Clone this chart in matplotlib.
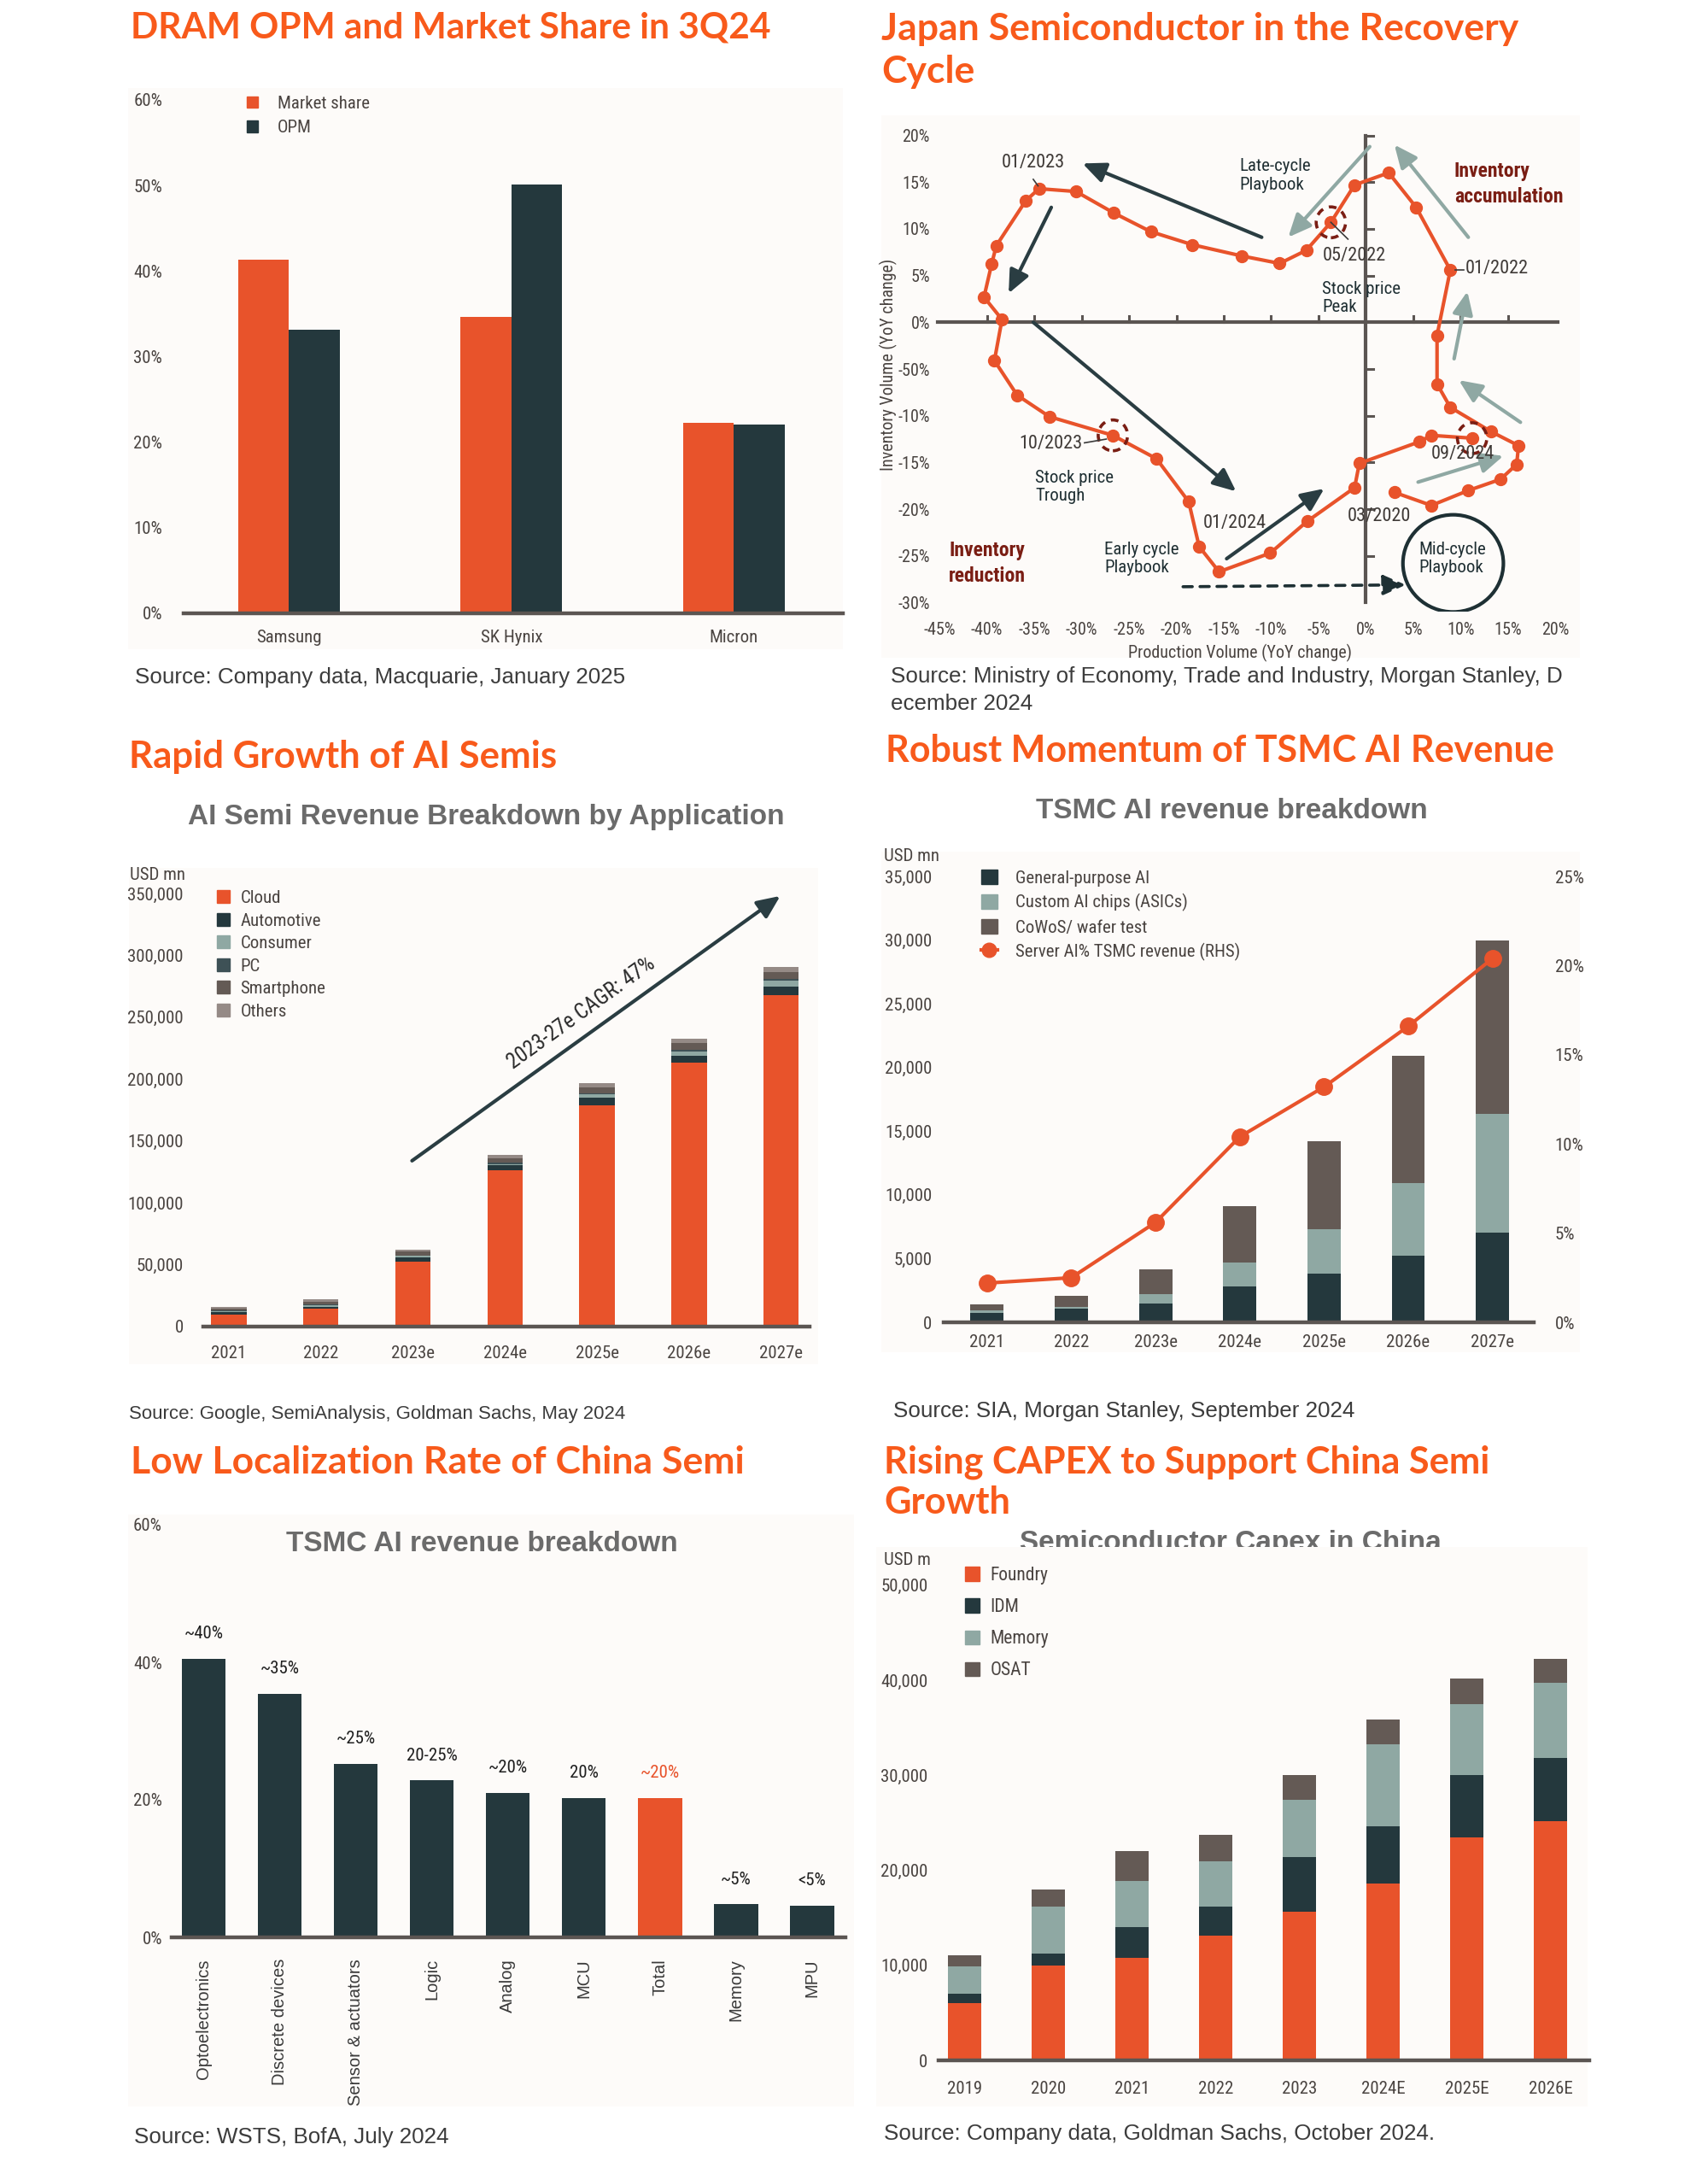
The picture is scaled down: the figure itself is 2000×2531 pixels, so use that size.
import matplotlib
matplotlib.use('Agg')
import matplotlib.pyplot as plt
from matplotlib import font_manager as fm
from matplotlib.patches import Rectangle, Ellipse, Patch
from matplotlib.lines import Line2D
from matplotlib.ticker import FuncFormatter
import numpy as np

# ---------------- data ----------------
dram_companies = ['Samsung', 'SK Hynix', 'Micron']
dram_market_share = [41.3, 34.6, 22.3]
dram_opm = [33.1, 50.1, 22.1]
dram_yticks = [0, 10, 20, 30, 40, 50, 60]

jp_production = [3.0, 6.9, 10.8, 14.2, 15.9, 16.1, 13.2, 8.9, 7.5, 7.5, 8.9, 5.3, 2.4, -1.2,
                 -3.7, -6.3, -9.1, -13.1, -18.3, -22.7, -26.6, -30.6, -34.5, -35.9, -39.0,
                 -39.5, -40.3, -38.4, -39.2, -36.8, -33.4, -26.7, -22.1, -18.7, -17.6, -15.5,
                 -10.1, -6.2, -1.2, -0.7, 5.6, 6.9, 11.2]
jp_inventory = [-18.2, -19.6, -18.0, -16.8, -15.2, -13.2, -11.7, -9.1, -6.6, -1.4, 5.6, 12.3,
                16.0, 14.7, 10.7, 7.7, 6.3, 7.1, 8.3, 9.7, 11.7, 14.0, 14.3, 13.0, 8.2, 6.2,
                2.7, 0.3, -4.1, -7.8, -10.1, -12.1, -14.6, -19.2, -24.0, -26.7, -24.7, -21.3,
                -17.7, -15.1, -12.8, -12.1, -12.4]
jp_xticks = [-45, -40, -35, -30, -25, -20, -15, -10, -5, 0, 5, 10, 15, 20]
jp_yticks = [20, 15, 10, 5, 0, -5, -10, -15, -20, -25, -30]
jp_yticklabels = ['20%', '15%', '10%', '5%', '0%', '-50%', '-10%', '-15%', '-20%', '-25%', '-30%']
jp_highlight_idx = [14, 31, 42]
jp_dark_arrows = [((-11.0, 9.1), (-29.9, 17.0)), ((-33.2, 12.3), (-37.7, 3.1)),
                  ((-35.1, 0.0), (-13.7, -18.1)), ((-14.7, -25.3), (-4.4, -17.8))]
jp_teal_arrows = [((0.4, 18.8), (-8.2, 9.1)), ((10.8, 9.1), (3.0, 19.0)),
                  ((9.3, -3.9), (10.7, 3.3)), ((16.3, -10.7), (9.8, -6.2)),
                  ((5.5, -17.1), (14.5, -14.3))]

ai_years = ['2021', '2022', '2023e', '2024e', '2025e', '2026e', '2027e']
ai_cloud = [10000, 14500, 52500, 126000, 179000, 213000, 268000]
ai_automotive = [1500, 1500, 3500, 4500, 6000, 5500, 7000]
ai_consumer = [1000, 1500, 1000, 1000, 2500, 3500, 4300]
ai_pc = [500, 500, 500, 700, 1000, 1500, 1500]
ai_smartphone = [1500, 2000, 3000, 3800, 4500, 5500, 6000]
ai_others = [1500, 1800, 1900, 2600, 4000, 3500, 3500]
ai_yticks = [0, 50000, 100000, 150000, 200000, 250000, 300000, 350000]

tsmc_years = ['2021', '2022', '2023e', '2024e', '2025e', '2026e', '2027e']
tsmc_general = [750, 1050, 1480, 2800, 3800, 5200, 7050]
tsmc_custom = [200, 150, 700, 1900, 3500, 5750, 9300]
tsmc_cowos = [450, 900, 1950, 4450, 6900, 10000, 13600]
tsmc_ai_pct = [2.2, 2.5, 5.6, 10.4, 13.2, 16.6, 20.4]
tsmc_yticks = [0, 5000, 10000, 15000, 20000, 25000, 30000, 35000]
tsmc_rticks = [0, 5, 10, 15, 20, 25]

loc_categories = ['Optoelectronics', 'Discrete devices', 'Sensor & actuators', 'Logic',
                  'Analog', 'MCU', 'Total', 'Memory', 'MPU']
loc_rates = [40.5, 35.4, 25.2, 22.8, 21.0, 20.3, 20.3, 4.8, 4.6]
loc_labels = ['~40%', '~35%', '~25%', '20-25%', '~20%', '20%', '~20%', '~5%', '<5%']
loc_yticks = [0, 20, 40, 60]

capex_years = ['2019', '2020', '2021', '2022', '2023', '2024E', '2025E', '2026E']
capex_foundry = [6000, 10000, 10800, 13100, 15600, 18600, 23500, 25200]
capex_idm = [1000, 1200, 3200, 3100, 5800, 6000, 6500, 6600]
capex_memory = [2900, 5000, 4900, 4700, 6000, 8700, 7500, 7900]
capex_osat = [1200, 1800, 3100, 2800, 2600, 2600, 2700, 2500]
capex_yticks = [0, 10000, 20000, 30000, 40000, 50000]

# ---------------- fonts ----------------
_fonts = {}
for _f in fm.fontManager.ttflist:
    _fonts.setdefault(_f.name, set()).add(str(_f.stretch))
STRETCH = 'normal'
FC = None
for nm in ['Liberation Sans Narrow', 'Roboto Condensed', 'Arial Narrow', 'Open Sans Condensed',
           'Noto Sans Condensed', 'DejaVu Sans Condensed']:
    if nm in _fonts:
        FC = [nm, 'DejaVu Sans']
        break
if FC is None:
    for nm in ['Roboto', 'Noto Sans', 'Open Sans', 'DejaVu Sans', 'Liberation Sans']:
        if any('condensed' in s for s in _fonts.get(nm, set())):
            FC = [nm, 'DejaVu Sans']
            STRETCH = 'condensed'
            break
if FC is None:
    FC = ['Roboto', 'DejaVu Sans']
FT = ['Lato', 'DejaVu Sans']
FS = ['Liberation Sans', 'DejaVu Sans']

# ---------------- style ----------------
ORANGE = '#e8532b'
DARK = '#24383d'
TEAL = '#8fa8a3'
BROWN = '#645a55'
GRAYC = '#958a86'
PCCOL = '#3e5156'
TITLE_C = '#f85a1b'
TICK_C = '#4a4441'
AXIS_C = '#5b5552'
SRC_C = '#3c3c3c'
SUB_C = '#6b6b6b'
DARKRED = '#7a1e14'
BG = '#fdfbf9'

W, H = 2000, 2531
fig = plt.figure(figsize=(W / 100, H / 100), dpi=100)
fig.patch.set_facecolor('white')


def fx(x):
    return x / W


def fy(y):
    return 1 - y / H


def add_ax(x0, y0, x1, y1):
    ax = fig.add_axes([fx(x0), fy(y1), (x1 - x0) / W, (y1 - y0) / H])
    ax.set_facecolor('none')
    return ax


def bg(x0, y0, x1, y1, z=-1):
    fig.patches.append(Rectangle((fx(x0), fy(y1)), (x1 - x0) / W, (y1 - y0) / H,
                                 transform=fig.transFigure, facecolor=BG,
                                 edgecolor='none', zorder=z))


def title(x, y, s, size=31):
    fig.text(fx(x), fy(y), s, family=FT, weight='bold', size=size, color=TITLE_C,
             ha='left', va='center')


def subtitle(x, y, s, z=3, va='center'):
    fig.text(fx(x), fy(y), s, family=FS, weight='bold', size=24, color=SUB_C,
             ha='center', va=va, zorder=z)


def source(x, y, s, size=18.7):
    fig.text(fx(x), fy(y), s, family=FS, size=size, color=SRC_C, ha='left', va='center')


def ctext(x, y, s, **kw):
    fig.text(fx(x), fy(y), s, family=FC, stretch=STRETCH, **kw)


def cond(labels):
    for lab in labels:
        lab.set_family(FC)
        lab.set_stretch(STRETCH)


def base_style(ax, ypad, xpad, lsize=15):
    for k in ['left', 'right', 'top']:
        ax.spines[k].set_visible(False)
    ax.spines['bottom'].set_color(AXIS_C)
    ax.spines['bottom'].set_linewidth(3.2)
    ax.tick_params(axis='both', length=0, labelsize=lsize, labelcolor=TICK_C)
    ax.tick_params(axis='y', pad=ypad)
    ax.tick_params(axis='x', pad=xpad)
    cond(ax.get_xticklabels() + ax.get_yticklabels())


def legend(ax, handles, labels, x, y, size, hl, ht, sp, tp):
    lg = ax.legend(handles, labels, loc='upper left', bbox_to_anchor=(fx(x), fy(y)),
                   bbox_transform=fig.transFigure, frameon=False, borderpad=0,
                   borderaxespad=0, handlelength=hl, handleheight=ht, labelspacing=sp,
                   handletextpad=tp,
                   prop={'family': FC, 'size': size, 'stretch': STRETCH})
    for t in lg.get_texts():
        t.set_color(TICK_C)
    return lg


# ================= Panel 1: DRAM =================
bg(150, 103, 987, 760)
title(153, 33, 'DRAM OPM and Market Share in 3Q24', 30.5)
ax1 = add_ax(215, 117, 987, 718)
x = np.arange(len(dram_companies))
bw = 0.228
ax1.bar(x - bw / 2, dram_market_share, bw, color=ORANGE, label='Market share')
ax1.bar(x + bw / 2, dram_opm, bw, color=DARK, label='OPM')
ax1.set_xlim(-0.473, 2.49)
ax1.set_ylim(0, 60)
ax1.set_yticks(dram_yticks)
ax1.set_yticklabels([f'{v}%' for v in dram_yticks])
ax1.set_xticks(x)
ax1.set_xticklabels(dram_companies)
base_style(ax1, 18, 14)
legend(ax1, [Patch(color=ORANGE), Patch(color=DARK)], ['Market share', 'OPM'],
       289, 112, 15, 0.62, 0.62, 0.44, 1.09)
source(158, 793, 'Source: Company data, Macquarie, January 2025')

# ================= Panel 2: Japan =================
bg(1032, 135, 1850, 770)
title(1032, 34, 'Japan Semiconductor in the Recovery', 32)
title(1032, 84, 'Cycle', 32)
ax2 = add_ax(1094.5, 147.6, 1827, 716.4)
ax2.set_xlim(-45.5, 20.5)
ax2.set_ylim(-31, 21)
for s in ax2.spines.values():
    s.set_visible(False)
ax2.set_xticks(jp_xticks)
ax2.set_xticklabels([f'{v}%' for v in jp_xticks])
ax2.set_yticks(jp_yticks)
ax2.set_yticklabels(jp_yticklabels)
ax2.tick_params(length=0, labelsize=14.5, labelcolor=TICK_C)
ax2.tick_params(axis='y', pad=4)
ax2.tick_params(axis='x', pad=8)
cond(ax2.get_xticklabels() + ax2.get_yticklabels())
# cross axes
ax2.plot([jp_xticks[0] - 0.2, jp_xticks[-1] + 0.2], [0, 0], color=AXIS_C, lw=3, zorder=1)
ax2.plot([0, 0], [jp_yticks[-1], jp_yticks[0]], color=AXIS_C, lw=3, zorder=1)
for v in jp_xticks[1:-1]:
    if v != 0:
        ax2.plot([v, v], [0, 0.65], color=AXIS_C, lw=2.2, zorder=1)
for v in jp_yticks[:-1]:
    if v != 0:
        ax2.plot([0, 0.8], [v, v], color=AXIS_C, lw=2.2, zorder=1)
# arrows
for (a, b) in jp_dark_arrows:
    ax2.annotate('', xy=b, xytext=a,
                 arrowprops=dict(arrowstyle='-|>,head_length=0.9,head_width=0.4',
                                 color='#2a3d42', lw=3, shrinkA=0, shrinkB=0,
                                 mutation_scale=18), zorder=2)
for (a, b) in jp_teal_arrows:
    ax2.annotate('', xy=b, xytext=a,
                 arrowprops=dict(arrowstyle='-|>,head_length=0.9,head_width=0.4',
                                 color=TEAL, lw=3, shrinkA=0, shrinkB=0,
                                 mutation_scale=18), zorder=2)
ax2.annotate('', xy=(4.2, -28.1), xytext=(-19.3, -28.3),
             arrowprops=dict(arrowstyle='-|>,head_length=0.9,head_width=0.4',
                             color='#1e3034', lw=2.6, ls=(0, (3, 2.5)), shrinkA=0,
                             shrinkB=0, mutation_scale=18), zorder=2)
ax2.add_patch(Ellipse((9.2, -25.8), 10.6, 10.4, fill=False, ec='#1e3034', lw=3, zorder=2))
# data line
ax2.plot(jp_production, jp_inventory, '-o', color=ORANGE, lw=3, ms=10, zorder=4)
for i in jp_highlight_idx:
    ax2.add_patch(Ellipse((jp_production[i], jp_inventory[i]), 3.1, 3.3, fill=False,
                          ec=DARKRED, lw=2.6, ls=(0, (2.5, 2)), zorder=5))
# leader lines
for (a, b) in [((-35.1, 15.3), (-34.6, 14.6)), ((9.4, 5.6), (10.3, 5.6)),
               ((-29.7, -12.9), (-27.4, -12.5)), ((-3.7, 10.7), (-1.9, 8.9))]:
    ax2.plot([a[0], b[0]], [a[1], b[1]], color='#3a3a3a', lw=1.2, zorder=5)
lbl = dict(family=FC, stretch=STRETCH, size=16, color='#3f3a37', zorder=6)
ax2.text(-35.1, 17.1, '01/2023', ha='center', va='center', **lbl)
ax2.text(-4.6, 7.1, '05/2022', ha='left', va='center', **lbl)
ax2.text(10.5, 5.7, '01/2022', ha='left', va='center', **lbl)
ax2.text(-29.9, -13.0, '10/2023', ha='right', va='center', **lbl)
ax2.text(-17.2, -21.5, '01/2024', ha='left', va='center', **lbl)
ax2.text(-2.0, -20.8, '03/2020', ha='left', va='center', **lbl)
ax2.text(6.9, -14.1, '09/2024', ha='left', va='center', **lbl)
lbl2 = dict(family=FC, stretch=STRETCH, size=15, color='#1f2f33', zorder=6, linespacing=1.15)
ax2.text(-13.3, 15.7, 'Late-cycle\nPlaybook', ha='left', va='center', **lbl2)
ax2.text(-4.6, 2.6, 'Stock price\nPeak', ha='left', va='center', **lbl2)
ax2.text(-34.9, -17.6, 'Stock price\nTrough', ha='left', va='center', **lbl2)
ax2.text(-27.6, -25.3, 'Early cycle\nPlaybook', ha='left', va='center', **lbl2)
ax2.text(5.6, -25.3, 'Mid-cycle\nPlaybook', ha='left', va='center', **lbl2)
bold = dict(family=FC, stretch=STRETCH, size=17, color=DARKRED, weight='bold', zorder=6,
            linespacing=1.4)
ax2.text(9.3, 14.8, 'Inventory\naccumulation', ha='left', va='center', **bold)
ax2.text(-44.0, -25.8, 'Inventory\nreduction', ha='left', va='center', **bold)
ctext(1040, 427, 'Inventory Volume (YoY change)', rotation=90, size=14.5, color=TICK_C,
      ha='center', va='center')
ctext(1452, 764, 'Production Volume (YoY change)', size=14.5, color=TICK_C,
      ha='center', va='center')
source(1043, 792, 'Source: Ministry of Economy, Trade and Industry, Morgan Stanley, D')
source(1043, 824, 'ecember 2024')

# ================= Panel 3: AI semis =================
bg(151, 1016, 958, 1597)
title(151, 886, 'Rapid Growth of AI Semis', 31.5)
subtitle(569, 957, 'AI Semi Revenue Breakdown by Application')
ax3 = add_ax(238.3, 1017, 947.6, 1553)
x = np.arange(len(ai_years))
bw = 0.385
series3 = [(ai_cloud, ORANGE, 'Cloud'), (ai_automotive, DARK, 'Automotive'),
           (ai_consumer, TEAL, 'Consumer'), (ai_pc, PCCOL, 'PC'),
           (ai_smartphone, BROWN, 'Smartphone'), (ai_others, GRAYC, 'Others')]
bottom = np.zeros(len(ai_years))
for vals, c, name in series3:
    ax3.bar(x, vals, bw, bottom=bottom, color=c, label=name)
    bottom += np.array(vals)
ax3.set_xlim(-0.275, 6.305)
ax3.set_ylim(0, 370000)
ax3.set_yticks(ai_yticks)
ax3.yaxis.set_major_formatter(FuncFormatter(lambda v, p: f'{v:,.0f}'))
ax3.set_xticks(x)
ax3.set_xticklabels(ai_years)
base_style(ax3, 17, 16)
legend(ax3, [Patch(color=c) for _, c, _ in series3], [n for _, _, n in series3],
       254, 1042, 15, 0.72, 0.72, 0.36, 0.6)
ctext(152, 1024, 'USD mn', size=15, color=TICK_C, ha='left', va='center')
a0 = (1.99, 134000)
a1 = (5.99, 348000)
ax3.annotate('', xy=a1, xytext=a0,
             arrowprops=dict(arrowstyle='-|>,head_length=0.9,head_width=0.4',
                             color='#2a3d42', lw=3, shrinkA=0, shrinkB=0,
                             mutation_scale=18))
p0 = ax3.transData.transform(a0)
p1 = ax3.transData.transform(a1)
ang = np.degrees(np.arctan2(p1[1] - p0[1], p1[0] - p0[0]))
ax3.text(3.83, 253000, '2023-27e CAGR: 47%', rotation=ang, rotation_mode='anchor',
         family=FC, stretch=STRETCH, size=18, color='#2a2a2a', ha='center', va='center')
source(151, 1655, 'Source: Google, SemiAnalysis, Goldman Sachs, May 2024', 16)

# ================= Panel 4: TSMC =================
bg(1032, 997, 1850, 1583)
title(1037, 879, 'Robust Momentum of TSMC AI Revenue', 31)
subtitle(1442, 949, 'TSMC AI revenue breakdown')
ax4 = add_ax(1105.4, 1010, 1795.5, 1548)
x = np.arange(len(tsmc_years))
bw = 0.395
series4 = [(tsmc_general, DARK, 'General-purpose AI'),
           (tsmc_custom, TEAL, 'Custom AI chips (ASICs)'),
           (tsmc_cowos, BROWN, 'CoWoS/ wafer test')]
bottom = np.zeros(len(tsmc_years))
for vals, c, name in series4:
    ax4.bar(x, vals, bw, bottom=bottom, color=c, label=name)
    bottom += np.array(vals)
ytop = 35000 * (1548 - 1010) / (1548 - 1026)
ax4.set_xlim(-0.51, 6.485)
ax4.set_ylim(0, ytop)
ax4.set_yticks(tsmc_yticks)
ax4.yaxis.set_major_formatter(FuncFormatter(lambda v, p: f'{v:,.0f}'))
ax4.set_xticks(x)
ax4.set_xticklabels(tsmc_years)
base_style(ax4, 10, 10)
ax4b = ax4.twinx()
ax4b.set_facecolor('none')
ax4b.set_ylim(0, ytop / 35000 * 25)
ax4b.plot(x, tsmc_ai_pct, '-o', color=ORANGE, lw=3, ms=14, zorder=5)
ax4b.set_yticks(tsmc_rticks)
ax4b.set_yticklabels([f'{v}%' for v in tsmc_rticks])
for s in ax4b.spines.values():
    s.set_visible(False)
ax4b.tick_params(length=0, labelsize=15, labelcolor=TICK_C, pad=18)
cond(ax4b.get_yticklabels())
h4 = [Patch(color=c) for _, c, _ in series4] + \
     [Line2D([], [], color=ORANGE, lw=3, marker='o', ms=12)]
l4 = [n for _, _, n in series4] + ['Server AI% TSMC revenue (RHS)']
legend(ax4b, h4, l4, 1149, 1018, 15, 0.91, 0.91, 0.4, 1.03)
ctext(1035, 1003, 'USD mn', size=15, color=TICK_C, ha='left', va='center')
source(1046, 1652, 'Source: SIA, Morgan Stanley, September 2024')

# ================= Panel 5: localization =================
bg(150, 1773, 1000, 2466)
title(153, 1712, 'Low Localization Rate of China Semi', 32)
subtitle(564, 1807, 'TSMC AI revenue breakdown')
ax5 = add_ax(201, 1785, 990, 2268)
x = np.arange(len(loc_categories))
cols5 = [ORANGE if c == 'Total' else DARK for c in loc_categories]
ax5.bar(x, loc_rates, 0.58, color=cols5)
ax5.set_xlim(-0.42, 8.44)
ax5.set_ylim(0, 60)
ax5.set_yticks(loc_yticks)
ax5.set_yticklabels([f'{v}%' for v in loc_yticks])
ax5.set_xticks(x)
ax5.set_xticklabels(loc_categories)
base_style(ax5, 8, 18)
for lab in ax5.get_xticklabels():
    lab.set_rotation(90)
    lab.set_family(FS)
    lab.set_stretch('normal')
    lab.set_fontsize(14.5)
    lab.set_color('#3a3a3a')
    lab.set_va('top')
for i, (v, t) in enumerate(zip(loc_rates, loc_labels)):
    ax5.annotate(t, (i, v), xytext=(0, 21), textcoords='offset points', ha='center',
                 va='center', family=FC, stretch=STRETCH, size=15,
                 color=ORANGE if loc_categories[i] == 'Total' else '#1f1f1f')
source(157, 2502, 'Source: WSTS, BofA, July 2024')

# ================= Panel 6: capex =================
subtitle(1441, 1815, 'Semiconductor Capex in China', z=-3, va='baseline')
bg(1026, 1811, 1859, 2466, z=-2)
title(1035, 1712, 'Rising CAPEX to Support China Semi', 31.2)
title(1035, 1759, 'Growth', 31.2)
ax6 = add_ax(1099, 1835, 1860.7, 2412)
x = np.arange(len(capex_years))
series6 = [(capex_foundry, ORANGE, 'Foundry'), (capex_idm, DARK, 'IDM'),
           (capex_memory, TEAL, 'Memory'), (capex_osat, BROWN, 'OSAT')]
bottom = np.zeros(len(capex_years))
for vals, c, name in series6:
    ax6.bar(x, vals, 0.40, bottom=bottom, color=c, label=name)
    bottom += np.array(vals)
ax6.set_xlim(-0.313, 7.46)
ax6.set_ylim(0, 50000 * (2412 - 1835) / (2412 - 1855.7))
ax6.set_yticks(capex_yticks)
ax6.yaxis.set_major_formatter(FuncFormatter(lambda v, p: f'{v:,.0f}'))
ax6.set_xticks(x)
ax6.set_xticklabels(capex_years)
base_style(ax6, 9, 17)
legend(ax6, [Patch(color=c) for _, c, _ in series6], [n for _, _, n in series6],
       1130, 1834, 15.5, 0.79, 0.79, 0.75, 0.59)
ctext(1035, 1826, 'USD m', size=15, color=TICK_C, ha='left', va='center')
source(1035, 2498, 'Source: Company data, Goldman Sachs, October 2024.')

fig.savefig('out.png', dpi=100, facecolor='white')
